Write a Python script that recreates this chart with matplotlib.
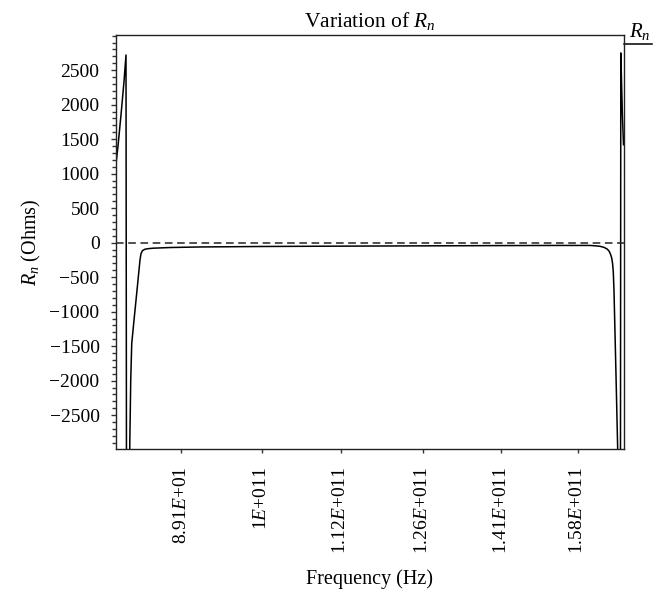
import matplotlib
matplotlib.use("Agg")
import matplotlib.pyplot as plt
from matplotlib.ticker import FixedLocator, MultipleLocator, NullLocator
from matplotlib.lines import Line2D

plt.rcParams['font.family'] = ['Liberation Serif', 'DejaVu Serif']
plt.rcParams['mathtext.fontset'] = 'custom'
plt.rcParams['mathtext.rm'] = 'Liberation Serif'
plt.rcParams['mathtext.it'] = 'Liberation Serif:italic'
plt.rcParams['axes.unicode_minus'] = True

# Frequency (GHz) and R_n (Ohms)
freq_ghz = [81.09, 81.36, 81.71, 82.06, 82.30, 82.38, 82.61, 82.75, 82.86, 82.98,
            83.25, 83.61, 83.97, 84.09, 84.27, 84.57, 84.94, 85.55, 87.67, 91.52,
            100.0, 112.17, 125.82, 141.13, 153.45, 160.20, 161.36, 162.52, 163.46,
            164.17, 164.64, 164.99, 165.28, 165.49, 165.66, 165.83, 166.30, 166.71,
            166.93, 167.34, 167.46, 167.65, 167.84, 168.11]
rn_ohms = [1100, 1400, 1850, 2330, 2720, -6000, -6000, -2900, -2000, -1460,
           -1125, -690, -251, -160, -115, -95, -87, -80, -70, -62,
           -55, -50, -46, -42, -40, -40, -45, -52, -68,
           -90, -120, -165, -220, -300, -420, -700, -1900, -2990,
           -6000, -6000, 2750, 2300, 1850, 1420]

xtick_ghz = [89.1, 100.0, 112.0, 126.0, 141.0, 157.4]
xtick_labels = [r"8.91$E$+01", r"1$E$+011", r"1.12$E$+011", r"1.26$E$+011",
                r"1.41$E$+011", r"1.58$E$+011"]
ytick_vals = [-2500, -2000, -1500, -1000, -500, 0, 500, 1000, 1500, 2000, 2500]

fig = plt.figure(figsize=(6.66, 5.94), dpi=100)
ax = fig.add_axes([0.1737, 0.2441, 0.7625, 0.6970])

fhz = [f * 1e9 for f in freq_ghz]
ax.plot(fhz, rn_ohms, color='black', lw=1.1, solid_joinstyle='round')
ax.axhline(0, color='#222222', lw=1.1, dashes=(5, 3))

ax.set_xscale('log')
ax.set_xlim(81.09e9, 168.11e9)
ax.set_ylim(-2990, 3010)

ax.xaxis.set_major_locator(FixedLocator([t * 1e9 for t in xtick_ghz]))
ax.xaxis.set_minor_locator(NullLocator())
ax.set_xticklabels(xtick_labels, rotation=90)
ax.yaxis.set_major_locator(FixedLocator(ytick_vals))
ax.yaxis.set_minor_locator(MultipleLocator(100))

ax.tick_params(axis='both', which='major', labelsize=14, direction='out', width=1.0, color='#333333')
ax.tick_params(axis='y', which='major', length=3.6, pad=8)
ax.tick_params(axis='y', which='minor', length=2.6, width=1.0, color='#333333')
ax.tick_params(axis='x', which='major', length=2.8, pad=10)
ax.tick_params(right=False, top=False)

for s in ax.spines.values():
    s.set_linewidth(1.0)
    s.set_color('#222222')

ax.set_title(r"Variation of $R_n$", fontsize=15.5, pad=6)
ax.set_xlabel("Frequency (Hz)", fontsize=14.5, labelpad=11)
ax.set_ylabel(r"$R_n$ (Ohms)", fontsize=14.5, labelpad=4.5)

# Legend in the top-right corner: label above a short line sample
ax.add_line(Line2D([1.0, 1.056], [0.978, 0.978], transform=ax.transAxes,
                   color='black', lw=1.1, clip_on=False))
ax.text(1.032, 0.982, r"$R_n$", transform=ax.transAxes, ha='center', va='bottom',
        fontsize=15, clip_on=False)

fig.savefig("out.png", dpi=100)
